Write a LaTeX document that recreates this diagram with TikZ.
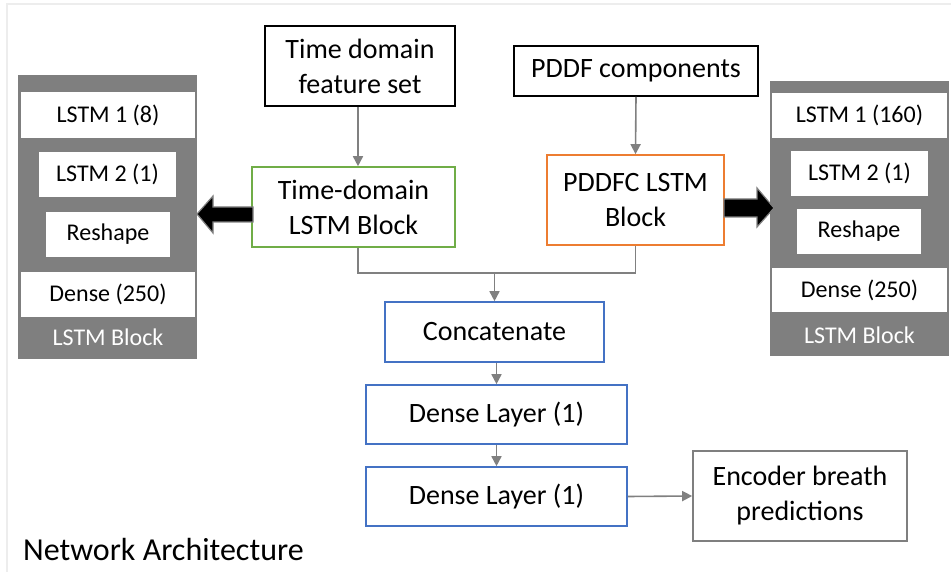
\documentclass[tikz,border=0pt]{standalone}
\usepackage{fontspec}
\setmainfont{Carlito}
\usetikzlibrary{arrows.meta}
\definecolor{tdgreen}{HTML}{70AD47}
\definecolor{pdorange}{HTML}{ED7D31}
\definecolor{lyblue}{HTML}{4472C4}
\definecolor{blockgray}{HTML}{7F7F7F}
\definecolor{linkgray}{HTML}{808080}
\definecolor{framegray}{HTML}{EDEDED}

\begin{document}
\begin{tikzpicture}[x=1pt,y=-1pt,
  box/.style={draw, line width=1.6pt, fill=white, align=center, inner sep=0pt,
    font=\fontsize{28}{35}\selectfont},
  layer/.style={fill=white, inner sep=0pt, font=\fontsize{24}{29}\selectfont},
  panel/.style={fill=blockgray, inner sep=0pt},
  paneltitle/.style={text=white, inner sep=0pt, font=\fontsize{24}{29}\selectfont},
  link/.style={draw=linkgray, line width=1.6pt},
  linkarrow/.style={link, -{Triangle[width=10pt,length=10pt]}},
  bigarrow/.style={fill=black, draw=linkgray, line width=1.2pt, line join=miter}]

\useasboundingbox (0,0) rectangle (951,572);
\fill[white] (0,0) rectangle (951,572);
\draw[framegray, line width=2pt] (7,572) -- (7,4) -- (951,4);

% inputs
\node[box, draw=black, minimum width=190pt, minimum height=80pt] (feat) at (360,66) {Time domain\\feature set};
\node[box, draw=black, minimum width=244pt, minimum height=50pt] (pddf) at (636,71) {PDDF components};

% branch LSTM blocks
\node[box, draw=tdgreen, minimum width=203pt, minimum height=80pt] (tdl) at (353.5,207) {Time-domain\\LSTM Block};
\node[box, draw=pdorange, minimum width=177pt, minimum height=90pt] (pdl) at (635.5,200) {PDDFC LSTM\\Block};

% merged head
\node[box, draw=lyblue, minimum width=219pt, minimum height=60pt] (concat) at (494.5,332) {Concatenate};
\node[box, draw=lyblue, minimum width=261pt, minimum height=59pt] (dense1) at (496.5,414.5) {Dense Layer (1)};
\node[box, draw=lyblue, minimum width=261pt, minimum height=59pt] (dense2) at (496.5,496.5) {Dense Layer (1)};
\node[box, draw=blockgray, minimum width=214pt, minimum height=90pt] (enc) at (800,496) {Encoder breath\\predictions};

\node[anchor=west, inner sep=0pt, font=\fontsize{32}{38}\selectfont] (cap) at (23,550) {Network Architecture};

% left LSTM block detail
\node[panel, minimum width=179pt, minimum height=284pt] (lblk) at (107.5,217) {};
\node[layer, minimum width=174pt, minimum height=46pt] (l1) at (108,115) {LSTM 1 (8)};
\node[layer, minimum width=137pt, minimum height=45pt] (l2) at (107.5,174.5) {LSTM 2 (1)};
\node[layer, minimum width=124pt, minimum height=45pt] (l3) at (108,234.5) {Reshape};
\node[layer, minimum width=174pt, minimum height=45pt] (l4) at (108,294.5) {Dense (250)};
\node[paneltitle] (lt) at (108,337) {LSTM Block};

% right LSTM block detail
\node[panel, minimum width=179pt, minimum height=275pt] (rblk) at (859.5,218.5) {};
\node[layer, minimum width=175pt, minimum height=45pt] (r1) at (859.5,115.5) {LSTM 1 (160)};
\node[layer, minimum width=137pt, minimum height=45pt] (r2) at (859.5,173.5) {LSTM 2 (1)};
\node[layer, minimum width=124pt, minimum height=45pt] (r3) at (859,231.5) {Reshape};
\node[layer, minimum width=175pt, minimum height=44pt] (r4) at (859.5,290) {Dense (250)};
\node[paneltitle] (rt) at (859.5,335) {LSTM Block};

% block arrows to the detail panels
\filldraw[bigarrow] (253,207) -- (213,207) -- (213,196) -- (197,214) -- (213,233) -- (213,222) -- (253,222) -- cycle;
\filldraw[bigarrow] (724,199) -- (757,199) -- (757,188) -- (774,208) -- (757,227) -- (757,217) -- (724,217) -- cycle;

% connectors
\draw[linkarrow] (feat.south -| 358,0) -- (tdl.north -| 358,0);
\draw[linkarrow] (pddf.south) -- (pdl.north);
\coordinate (mrg) at (concat.north |- 0,273);
\draw[link] (tdl.south -| 358,0) |- (mrg) -| (pdl.south);
\draw[linkarrow] (mrg) -- (concat.north);
\draw[linkarrow] (concat.south -| dense1.north) -- (dense1.north);
\draw[linkarrow] (dense1.south) -- (dense2.north);
\draw[linkarrow] (dense2.east) -- (enc.west);
\end{tikzpicture}
\end{document}
